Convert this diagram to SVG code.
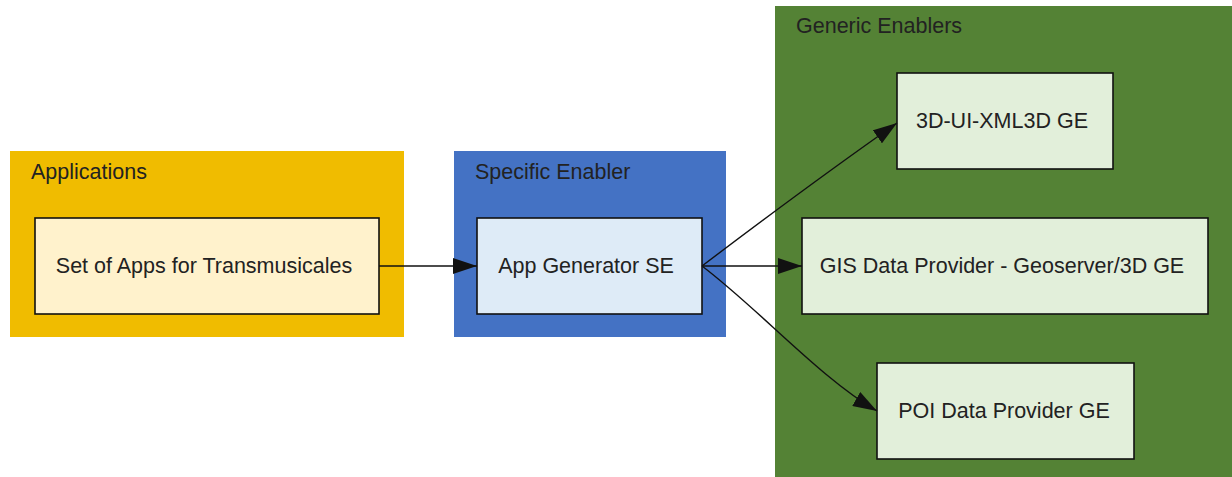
<svg xmlns="http://www.w3.org/2000/svg" width="1232" height="477" viewBox="0 0 1232 477">
<style>
text{font-family:"Liberation Sans",Arial,sans-serif;font-size:21.5px;fill:#222}
.node{stroke:#111;stroke-width:1.6}
.edge{fill:none;stroke:#111;stroke-width:1.4}
</style>
<defs>
<marker id="arr" markerUnits="userSpaceOnUse" viewBox="0 0 24 16" refX="24" refY="8" markerWidth="24" markerHeight="16" orient="auto">
<path d="M0,0 L24,8 L0,16 z" fill="#111"/>
</marker>
</defs>
<g id="cluster-applications">
<rect x="10" y="151" width="394" height="186" fill="#f0bc00"/>
<text x="31" y="179">Applications</text>
</g>
<g id="cluster-specific">
<rect x="454" y="151" width="272" height="186" fill="#4472c4"/>
<text x="475" y="179">Specific Enabler</text>
</g>
<g id="cluster-generic">
<rect x="775" y="6" width="457" height="471" fill="#548235"/>
<text x="796" y="33">Generic Enablers</text>
</g>
<g id="node-apps">
<rect class="node" x="35" y="218" width="344" height="96" fill="#fff2cc"/>
<text x="204" y="273" text-anchor="middle">Set of Apps for Transmusicales</text>
</g>
<g id="node-appgen">
<rect class="node" x="477" y="218" width="225" height="96" fill="#deebf7"/>
<text x="586" y="273" text-anchor="middle">App Generator SE</text>
</g>
<g id="node-3dui">
<rect class="node" x="897" y="73" width="216" height="96" fill="#e2efda"/>
<text x="1002" y="128" text-anchor="middle">3D-UI-XML3D GE</text>
</g>
<g id="node-gis">
<rect class="node" x="802" y="218" width="406" height="96" fill="#e2efda"/>
<text x="1002" y="273" text-anchor="middle">GIS Data Provider - Geoserver/3D GE</text>
</g>
<g id="node-poi">
<rect class="node" x="877" y="363" width="257" height="96" fill="#e2efda"/>
<text x="1004" y="418" text-anchor="middle">POI Data Provider GE</text>
</g>
<g id="connectors">
<path class="edge" d="M379,266 L477,266" marker-end="url(#arr)"/>
<path class="edge" d="M702,266 C760,222 830,170 897,123" marker-end="url(#arr)"/>
<path class="edge" d="M702,266 L802,266" marker-end="url(#arr)"/>
<path class="edge" d="M702,266 C760,310 820,378 877,411" marker-end="url(#arr)"/>
</g>
</svg>
